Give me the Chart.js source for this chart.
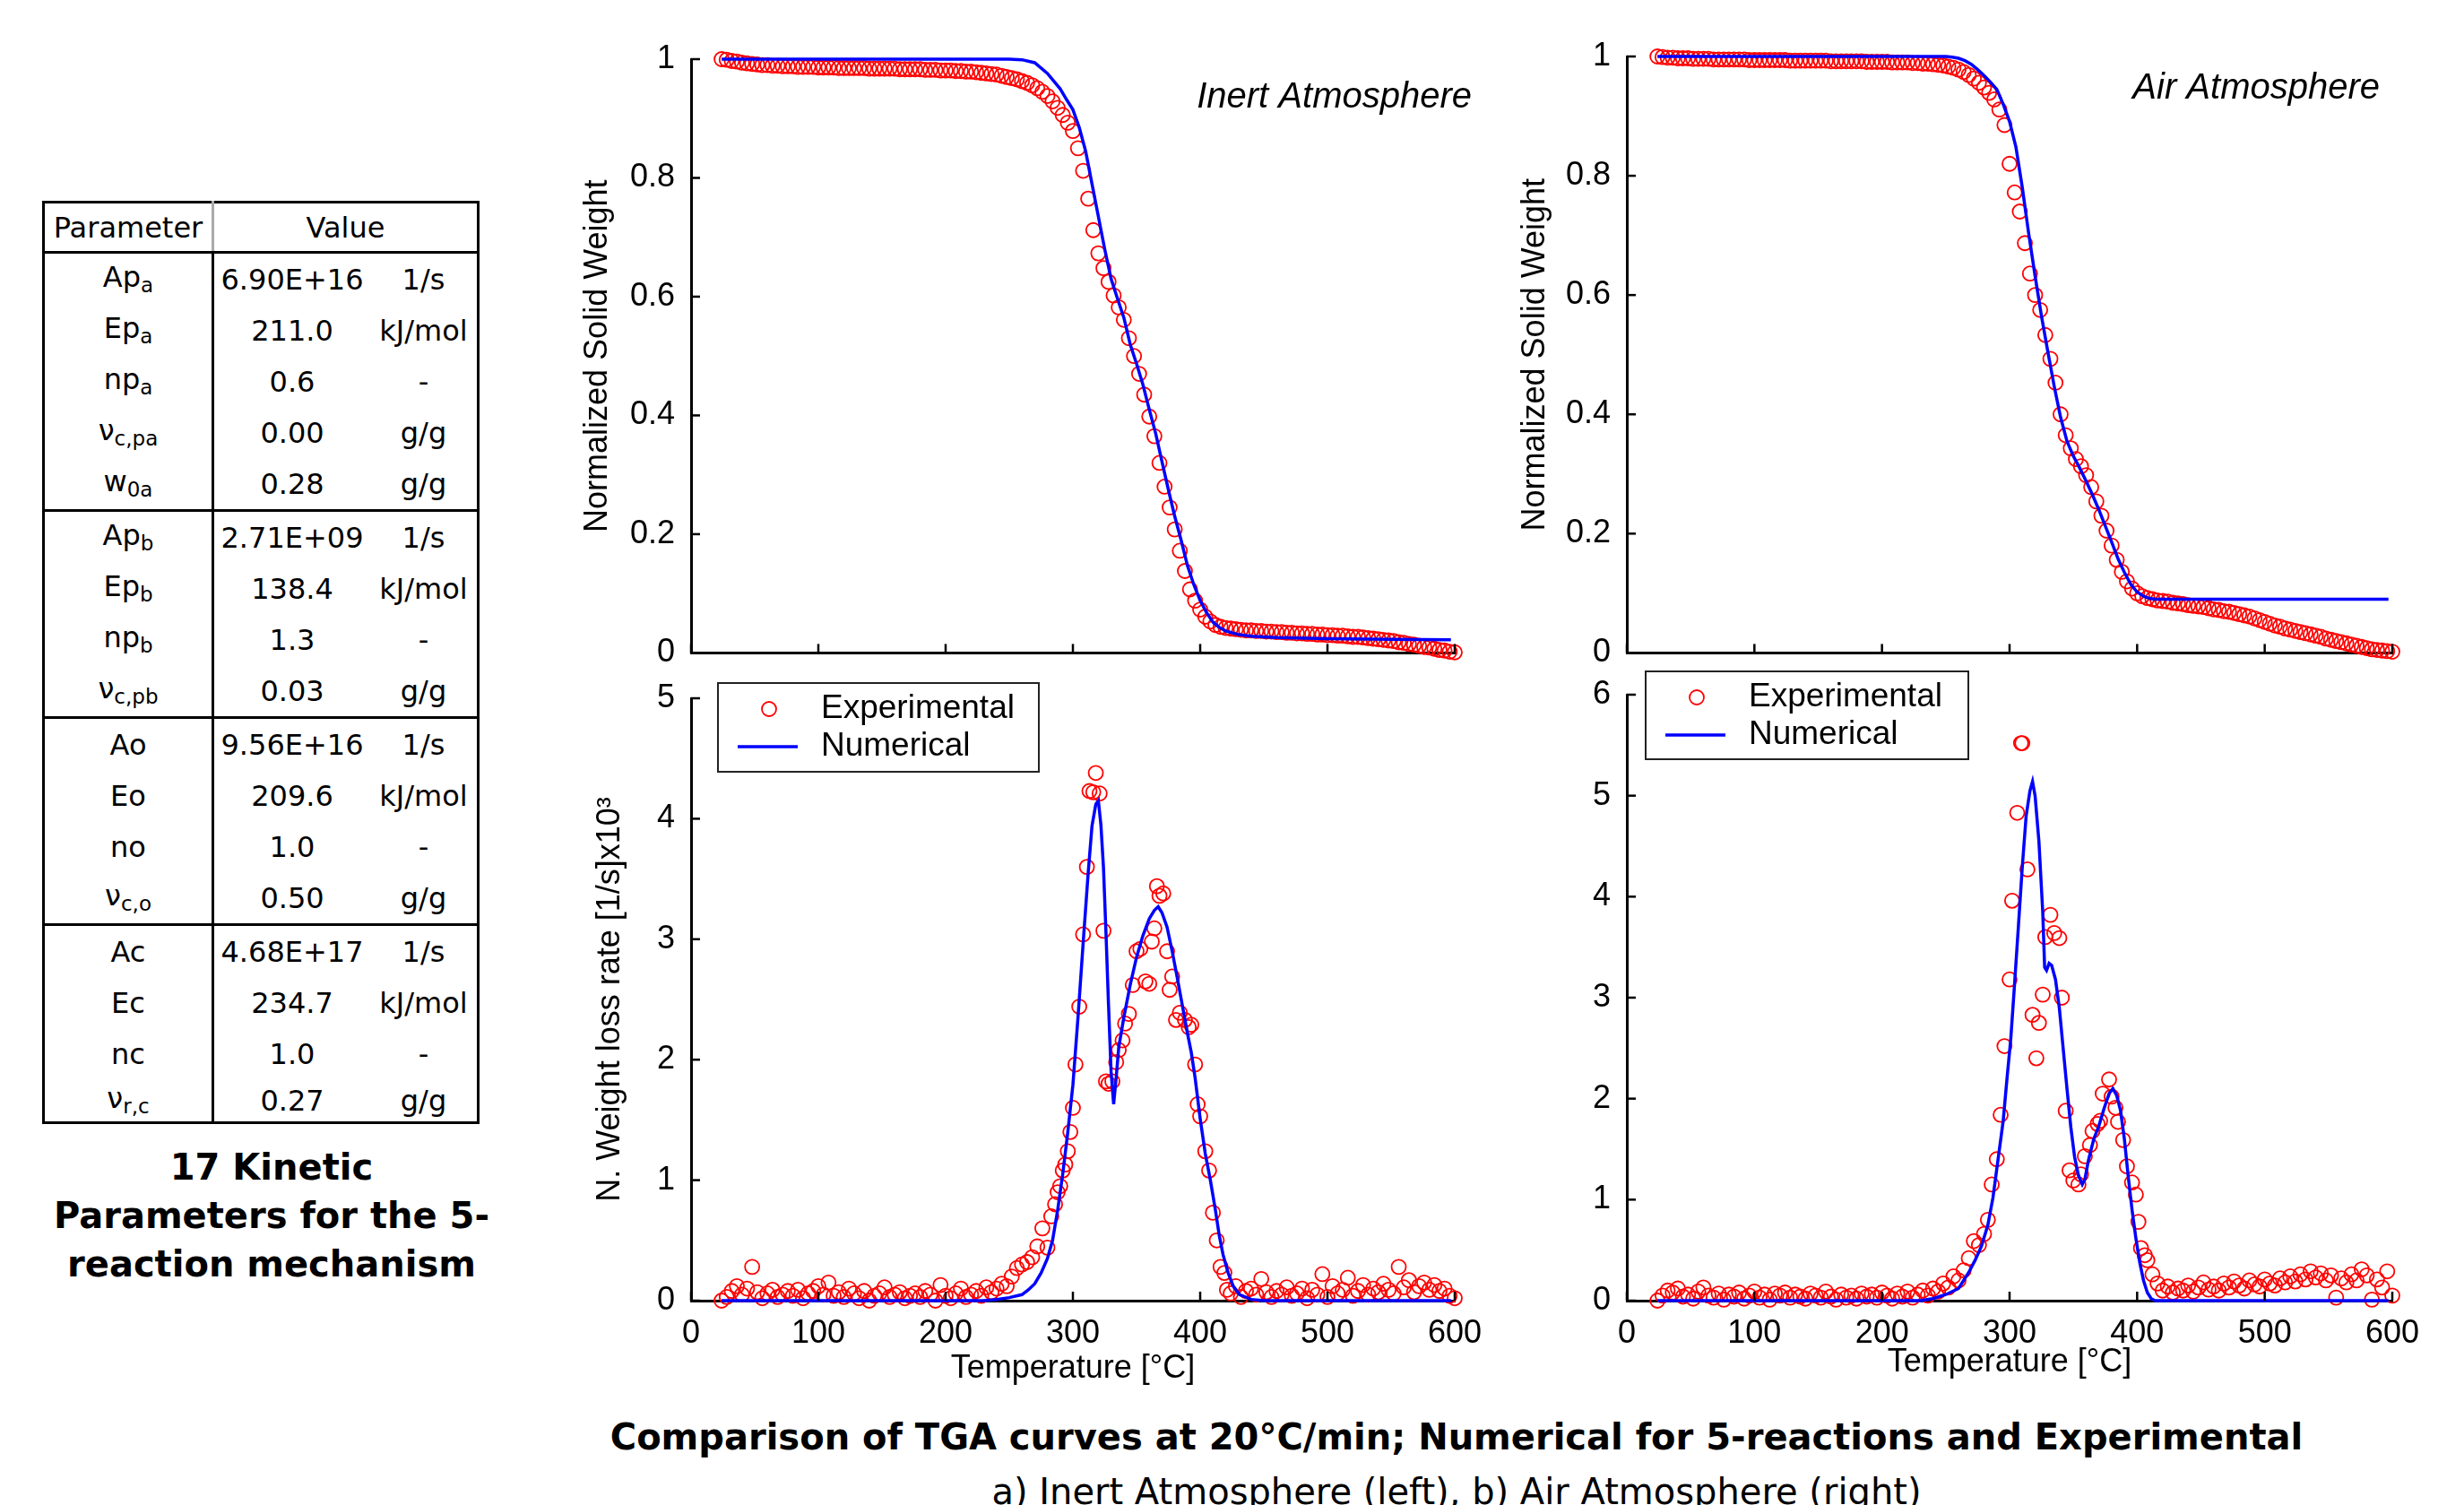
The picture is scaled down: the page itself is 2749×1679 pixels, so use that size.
<!DOCTYPE html>
<html>
<head>
<meta charset="utf-8">
<title>TGA comparison</title>
<script src="https://cdn.jsdelivr.net/npm/chart.js@4.4.1/dist/chart.umd.min.js"></script>
<style>
  html, body { margin: 0; padding: 0; background: #fff; }
  body { width: 2749px; height: 1679px; position: relative; overflow: hidden; font-family: "DejaVu Sans", Verdana, sans-serif; color: #000; }
  canvas { position: absolute; }
  #params { position: absolute; left: 47px; top: 224px; width: 488px; border-collapse: collapse; border: 3px solid #000; font-size: 32px; }
  #params th { font-weight: normal; height: 53px; border-bottom: 3px solid #000; padding: 0; }
  #params th.p { border-right: 3px solid #aaa; }
  #params td { height: 57px; padding: 0; text-align: center; vertical-align: middle; line-height: 1; }
  #params td.p { border-right: 3px solid #000; }
  #params tbody { border-top: 3px solid #000; }
  #params tr.last td { height: 47px; }
  #params sub { font-size: 23px; vertical-align: -6px; }
  #tabcap { position: absolute; left: 53px; top: 1275px; width: 500px; text-align: center; font-weight: bold; font-size: 40px; line-height: 54px; }
  #figcap { position: absolute; left: 625px; top: 1577px; width: 2000px; text-align: center; line-height: 52px; }
  #figcap .l1 { font-weight: bold; font-size: 40px; display: inline-block; white-space: nowrap; }
  #figcap .l2 { font-size: 40px; }
</style>
</head>
<body>

<table id="params">
  <thead>
    <tr><th class="p" style="width:186px">Parameter</th><th colspan="2">Value</th></tr>
  </thead>
  <tbody>
    <tr><td class="p">Ap<sub>a</sub></td><td style="width:174px">6.90E+16</td><td>1/s</td></tr>
    <tr><td class="p">Ep<sub>a</sub></td><td>211.0</td><td>kJ/mol</td></tr>
    <tr><td class="p">np<sub>a</sub></td><td>0.6</td><td>-</td></tr>
    <tr><td class="p">ν<sub>c,pa</sub></td><td>0.00</td><td>g/g</td></tr>
    <tr><td class="p">w<sub>0a</sub></td><td>0.28</td><td>g/g</td></tr>
  </tbody>
  <tbody>
    <tr><td class="p">Ap<sub>b</sub></td><td>2.71E+09</td><td>1/s</td></tr>
    <tr><td class="p">Ep<sub>b</sub></td><td>138.4</td><td>kJ/mol</td></tr>
    <tr><td class="p">np<sub>b</sub></td><td>1.3</td><td>-</td></tr>
    <tr><td class="p">ν<sub>c,pb</sub></td><td>0.03</td><td>g/g</td></tr>
  </tbody>
  <tbody>
    <tr><td class="p">Ao</td><td>9.56E+16</td><td>1/s</td></tr>
    <tr><td class="p">Eo</td><td>209.6</td><td>kJ/mol</td></tr>
    <tr><td class="p">no</td><td>1.0</td><td>-</td></tr>
    <tr><td class="p">ν<sub>c,o</sub></td><td>0.50</td><td>g/g</td></tr>
  </tbody>
  <tbody>
    <tr><td class="p">Ac</td><td>4.68E+17</td><td>1/s</td></tr>
    <tr><td class="p">Ec</td><td>234.7</td><td>kJ/mol</td></tr>
    <tr><td class="p">nc</td><td>1.0</td><td>-</td></tr>
    <tr class="last"><td class="p">ν<sub>r,c</sub></td><td>0.27</td><td>g/g</td></tr>
  </tbody>
</table>
<div id="tabcap">17 Kinetic<br>Parameters for the 5-<br>reaction mechanism</div>

<canvas id="inertTga" width="1060" height="760" style="left:620px;top:0px"></canvas>
<canvas id="airTga" width="1069" height="760" style="left:1680px;top:0px"></canvas>
<canvas id="inertRate" width="1060" height="849" style="left:620px;top:700px"></canvas>
<canvas id="airRate" width="1069" height="842" style="left:1680px;top:700px"></canvas>

<div id="figcap"><span class="l1">Comparison of TGA curves at 20°C/min; Numerical for 5-reactions and Experimental</span><br><span class="l2">a) Inert Atmosphere (left), b) Air Atmosphere (right)</span></div>

<script>
// temperatures of the experimental TGA points (°C)
const tgaTemps = [24,28,32,36,40,44,48,52,56,60,64,68,72,76,80,84,88,92,96,100,
  104,108,112,116,120,124,128,132,136,140,144,148,152,156,160,164,168,172,176,180,
  184,188,192,196,200,204,208,212,216,220,224,228,232,236,240,244,248,252,256,260,
  264,268,272,276,280,284,288,292,296,300,304,308,312,316,320,324,328,332,336,340,
  344,348,352,356,360,364,368,372,376,380,384,388,392,396,400,404,408,412,416,420,
  424,428,432,436,440,444,448,452,456,460,464,468,472,476,480,484,488,492,496,500,
  504,508,512,516,520,524,528,532,536,540,544,548,552,556,560,564,568,572,576,580,
  584,588,592,596,600];

// normalized solid weight, experimental
const inertWeightExp = [1.000,0.999,0.997,0.996,0.994,0.993,0.992,0.991,0.990,0.990,0.989,0.989,0.988,0.988,0.988,0.987,0.987,0.987,0.987,0.986,
  0.986,0.986,0.986,0.985,0.985,0.985,0.985,0.985,0.985,0.984,0.984,0.984,0.984,0.984,0.984,0.983,0.983,0.983,0.983,0.983,
  0.982,0.982,0.982,0.981,0.981,0.981,0.980,0.980,0.979,0.979,0.978,0.977,0.976,0.975,0.974,0.972,0.970,0.968,0.966,0.963,
  0.960,0.956,0.951,0.945,0.938,0.929,0.918,0.906,0.893,0.879,0.850,0.812,0.765,0.712,0.673,0.648,0.625,0.602,0.582,0.561,
  0.530,0.500,0.470,0.435,0.398,0.365,0.320,0.280,0.245,0.208,0.172,0.138,0.107,0.088,0.073,0.061,0.053,0.047,0.044,0.042,
  0.041,0.040,0.039,0.038,0.038,0.037,0.037,0.036,0.036,0.035,0.035,0.034,0.034,0.033,0.033,0.032,0.032,0.031,0.031,0.030,
  0.030,0.029,0.029,0.028,0.027,0.027,0.026,0.025,0.024,0.023,0.022,0.021,0.020,0.018,0.017,0.015,0.014,0.012,0.010,0.009,
  0.007,0.005,0.004,0.002,0.001];
const airWeightExp = [1.000,0.999,0.998,0.998,0.997,0.997,0.997,0.996,0.996,0.996,0.996,0.995,0.995,0.995,0.995,0.995,0.995,0.995,0.994,0.994,
  0.994,0.994,0.994,0.994,0.994,0.994,0.993,0.993,0.993,0.993,0.993,0.993,0.993,0.993,0.992,0.992,0.992,0.992,0.992,0.992,
  0.992,0.991,0.991,0.991,0.991,0.991,0.990,0.990,0.990,0.990,0.989,0.989,0.988,0.988,0.987,0.986,0.985,0.983,0.981,0.978,
  0.974,0.969,0.963,0.956,0.948,0.939,0.928,0.911,0.885,0.820,0.772,0.740,0.687,0.636,0.600,0.575,0.533,0.493,0.453,0.400,
  0.365,0.343,0.325,0.313,0.298,0.278,0.254,0.230,0.205,0.180,0.156,0.136,0.120,0.108,0.100,0.095,0.092,0.090,0.088,0.087,
  0.086,0.084,0.083,0.082,0.080,0.079,0.078,0.077,0.075,0.073,0.072,0.070,0.069,0.067,0.065,0.063,0.061,0.058,0.055,0.052,
  0.049,0.046,0.044,0.041,0.039,0.037,0.035,0.033,0.031,0.029,0.027,0.024,0.022,0.020,0.018,0.016,0.014,0.012,0.010,0.008,
  0.006,0.005,0.004,0.003,0.002];

// normalized solid weight, numerical
const inertWeightNumT = [24,100,200,250,260,270,280,290,295,300,305,310,315,320,325,330,335,340,345,350,
  355,360,365,370,375,380,385,390,395,400,405,410,415,420,430,440,460,500,550,597];
const inertWeightNum = [1,1,1,1,0.999,0.994,0.976,0.95,0.932,0.915,0.885,0.845,0.79,0.735,0.68,0.63,0.597,0.565,0.52,0.487,
  0.452,0.41,0.37,0.322,0.275,0.23,0.19,0.147,0.115,0.088,0.068,0.052,0.043,0.037,0.031,0.028,0.026,0.024,0.023,0.022];
const airWeightNumT = [24,100,200,250,255,260,265,270,275,280,285,290,295,300,305,310,315,320,325,330,
  335,340,345,350,355,360,365,370,375,380,385,390,395,400,405,410,415,597];
const airWeightNum = [1,1,1,1,0.999,0.997,0.993,0.987,0.978,0.968,0.957,0.945,0.92,0.891,0.848,0.78,0.703,0.632,0.565,0.505,
  0.447,0.395,0.355,0.33,0.31,0.288,0.265,0.24,0.213,0.186,0.158,0.135,0.115,0.102,0.095,0.091,0.09,0.09];

// weight loss rate [1/s]x10^3, experimental
const inertRateT = [24,28,32,36,40,44,48,52,56,60,64,68,72,76,80,84,88,92,96,100,
  104,108,112,116,120,124,128,132,136,140,144,148,152,156,160,164,168,172,176,180,
  184,188,192,196,200,204,208,212,216,220,224,228,232,236,240,244,248,252,256,260,
  264,268,272,276,280,283,286,288,290,292,294,296,298,300,302,305,308,311,313,316,
  318,321,324,326,328,331,334,336,339,341,344,347,350,353,357,360,362,364,366,368,
  371,374,376,378,381,384,388,391,393,396,398,400,404,407,410,413,416,419,421,424,
  428,432,436,440,444,448,452,456,460,464,468,472,476,480,484,488,492,496,500,504,
  508,512,516,520,524,528,532,536,540,544,548,552,556,560,564,568,572,576,580,584,
  588,592,596,600];
const inertRateExp = [0.0,0.03,0.08,0.12,0.05,0.1,0.28,0.07,0.02,0.06,0.09,0.03,0.05,0.08,0.04,0.09,0.02,0.06,0.08,0.12,
  0.05,0.15,0.04,0.07,0.03,0.1,0.06,0.02,0.08,0.0,0.04,0.06,0.11,0.03,0.05,0.07,0.02,0.04,0.06,0.03,
  0.08,0.05,0.0,0.13,0.04,0.02,0.06,0.1,0.03,0.05,0.08,0.04,0.11,0.07,0.1,0.14,0.12,0.2,0.27,0.3,
  0.32,0.36,0.45,0.6,0.44,0.7,0.8,0.9,0.95,1.08,1.13,1.24,1.4,1.6,1.96,2.44,3.04,3.6,4.23,4.22,
  4.38,4.21,3.07,1.82,1.8,1.82,1.98,2.08,2.16,2.3,2.38,2.62,2.9,2.92,2.65,2.63,2.98,3.09,3.44,3.36,
  3.38,2.9,2.58,2.69,2.33,2.39,2.33,2.27,2.29,1.96,1.63,1.53,1.24,1.08,0.73,0.5,0.28,0.23,0.09,0.06,
  0.12,0.03,0.08,0.1,0.05,0.18,0.07,0.03,0.08,0.05,0.11,0.04,0.06,0.1,0.02,0.09,0.05,0.22,0.03,0.12,
  0.06,0.09,0.19,0.04,0.08,0.13,0.05,0.1,0.07,0.14,0.09,0.06,0.28,0.11,0.17,0.07,0.12,0.15,0.09,0.13,
  0.08,0.1,0.04,0.02];
const airRateT = [24,28,32,36,40,44,48,52,56,60,64,68,72,76,80,84,88,92,96,100,
  104,108,112,116,120,124,128,132,136,140,144,148,152,156,160,164,168,172,176,180,
  184,188,192,196,200,204,208,212,216,220,224,228,232,236,240,244,248,252,256,260,
  264,268,272,276,280,283,286,290,293,296,300,302,306,309,310,314,318,321,323,326,
  328,332,335,339,341,344,347,350,354,356,359,363,365,369,371,373,378,380,383,385,
  389,392,396,399,401,403,406,408,412,416,420,424,428,432,436,440,444,448,452,456,
  460,464,468,472,476,480,484,488,492,496,500,504,508,512,516,520,524,528,532,536,
  540,544,548,552,556,560,564,568,572,576,580,584,588,592,596,600];
const airRateExp = [0.0,0.05,0.1,0.08,0.12,0.04,0.06,0.02,0.09,0.13,0.05,0.03,0.07,0.01,0.06,0.04,0.08,0.02,0.05,0.09,
  0.03,0.06,0.01,0.07,0.05,0.08,0.03,0.06,0.04,0.02,0.07,0.05,0.03,0.09,0.04,0.01,0.06,0.03,0.05,0.02,
  0.07,0.04,0.06,0.03,0.08,0.05,0.02,0.07,0.04,0.09,0.03,0.06,0.1,0.05,0.12,0.09,0.17,0.13,0.24,0.2,
  0.3,0.42,0.59,0.55,0.66,0.8,1.15,1.4,1.84,2.52,3.18,3.96,4.83,5.52,5.52,4.27,2.83,2.4,2.75,3.03,
  3.6,3.82,3.64,3.59,3.0,1.88,1.29,1.19,1.15,1.25,1.43,1.54,1.68,1.75,1.78,2.05,2.19,2.02,1.91,1.77,
  1.59,1.33,1.17,1.05,0.78,0.52,0.45,0.4,0.26,0.17,0.1,0.14,0.08,0.12,0.1,0.15,0.09,0.13,0.18,0.11,
  0.14,0.1,0.17,0.13,0.19,0.15,0.12,0.2,0.16,0.14,0.21,0.17,0.15,0.22,0.18,0.24,0.19,0.26,0.21,0.29,
  0.23,0.27,0.2,0.25,0.03,0.22,0.18,0.26,0.2,0.31,0.25,0.01,0.21,0.13,0.29,0.05];

// weight loss rate [1/s]x10^3, numerical
const inertRateNumT = [24,100,200,230,240,250,260,265,270,275,280,284,288,292,296,300,304,308,312,315,
  318,320,322,324,326,328,330,332,334,336,340,345,350,355,360,364,367,370,374,378,
  382,386,390,393,396,400,404,408,412,415,418,422,426,431,440,450,597];
const inertRateNum = [0,0,0,0,0.01,0.025,0.05,0.09,0.14,0.23,0.35,0.5,0.75,1.05,1.4,1.79,2.35,2.96,3.55,3.94,
  4.12,4.15,3.95,3.6,3.05,2.45,1.9,1.63,1.85,2.1,2.35,2.62,2.85,3.03,3.17,3.24,3.27,3.22,3.1,2.9,
  2.68,2.45,2.22,2.06,1.85,1.51,1.22,1.0,0.75,0.54,0.38,0.23,0.12,0.05,0.01,0,0];
const airRateNumT = [24,100,200,230,240,250,260,268,273,278,283,287,291,295,298,301,304,307,310,313,
  316,318,320,323,326,327.5,329,331,333,336,339,342,345,348,351,354,357,359,362,366,
  370,374,378,381,384,387,390,393,396,399,402,405,408,411,414,597];
const airRateNum = [0,0,0,0,0.02,0.06,0.12,0.28,0.4,0.54,0.75,1.02,1.4,1.78,2.2,2.6,3.15,3.72,4.3,4.8,
  5.05,5.14,5.0,4.55,3.85,3.3,3.27,3.34,3.32,3.18,2.9,2.5,2.1,1.72,1.42,1.24,1.15,1.2,1.4,1.6,
  1.73,1.9,2.05,2.1,2.03,1.88,1.6,1.23,0.9,0.62,0.38,0.2,0.08,0.02,0,0];

const tempTicks = [0, 100, 200, 300, 400, 500, 600];

Chart.defaults.font.family = '"Liberation Sans", Arial, sans-serif';
Chart.defaults.font.size = 36;
Chart.defaults.color = '#000';

function pairs(xs, ys) {
  return xs.map((x, i) => ({x: x, y: ys[i]}));
}

// inward tick marks, corner note and boxed legend drawn like the MATLAB figure
const decor = {
  id: 'decor',
  afterDraw(chart, args, o) {
    const ctx = chart.ctx, a = chart.chartArea;
    const x = chart.scales.x, y = chart.scales.y;
    ctx.save();
    ctx.strokeStyle = '#000';
    ctx.lineWidth = 2.5;
    x.ticks.forEach(t => {
      const px = x.getPixelForValue(t.value);
      ctx.beginPath(); ctx.moveTo(px, a.bottom); ctx.lineTo(px, a.bottom - 10); ctx.stroke();
    });
    y.ticks.forEach(t => {
      const py = y.getPixelForValue(t.value);
      ctx.beginPath(); ctx.moveTo(a.left, py); ctx.lineTo(a.left + 10, py); ctx.stroke();
    });
    if (o.note) {
      ctx.font = 'italic 40px "Liberation Sans", Arial, sans-serif';
      ctx.fillStyle = '#000';
      ctx.textAlign = 'right';
      ctx.textBaseline = 'middle';
      ctx.fillText(o.note, a.right + o.noteDx, a.top + o.noteDy);
    }
    if (o.legend) {
      const L = o.legend;
      const bx = a.left + L.dx, by = a.top + L.dy;
      ctx.fillStyle = '#fff';
      ctx.fillRect(bx, by, L.w, L.h);
      ctx.strokeStyle = '#222';
      ctx.lineWidth = 2;
      ctx.strokeRect(bx, by, L.w, L.h);
      ctx.strokeStyle = '#ff0000';
      ctx.lineWidth = 1.8;
      ctx.beginPath(); ctx.arc(bx + 57, by + 29, 8, 0, Math.PI * 2); ctx.stroke();
      ctx.strokeStyle = '#0000ff';
      ctx.lineWidth = 3.5;
      ctx.beginPath(); ctx.moveTo(bx + 22, by + 71); ctx.lineTo(bx + 89, by + 71); ctx.stroke();
      ctx.fillStyle = '#000';
      ctx.font = '37px "Liberation Sans", Arial, sans-serif';
      ctx.textAlign = 'left';
      ctx.textBaseline = 'middle';
      ctx.fillText('Experimental', bx + 115, by + 29);
      ctx.fillText('Numerical', bx + 115, by + 71);
    }
    ctx.restore();
  }
};

function makeChart(id, cfg) {
  const fmt = cfg.yStep < 1 ? (v => String(Number(v.toFixed(1)))) : (v => String(v));
  return new Chart(document.getElementById(id), {
    type: 'scatter',
    data: {
      datasets: [
        {
          label: 'Numerical',
          data: pairs(cfg.numT, cfg.numV),
          showLine: true,
          borderColor: '#0000ff',
          borderWidth: 3.5,
          pointRadius: 0,
          tension: 0,
          fill: false,
          clip: false,
          order: 0
        },
        {
          label: 'Experimental',
          data: pairs(cfg.expT, cfg.expV),
          showLine: false,
          pointStyle: 'circle',
          pointRadius: 8,
          borderColor: '#ff0000',
          backgroundColor: 'rgba(0,0,0,0)',
          borderWidth: 1.8,
          clip: false,
          order: 1
        }
      ]
    },
    options: {
      responsive: false,
      animation: false,
      devicePixelRatio: 1,
      events: [],
      layout: { padding: cfg.pad },
      plugins: {
        legend: { display: false },
        tooltip: { enabled: false },
        decor: { note: cfg.note, noteDx: cfg.noteDx, noteDy: cfg.noteDy, legend: cfg.legend }
      },
      scales: {
        x: {
          type: 'linear',
          min: 0, max: 600,
          afterBuildTicks: s => { s.ticks = tempTicks.map(v => ({value: v})); },
          ticks: { display: cfg.xLabels, padding: 7, maxRotation: 0, autoSkip: false },
          grid: { display: false },
          border: { display: true, color: '#000', width: 3 },
          title: { display: cfg.xLabels, text: 'Temperature [°C]', padding: 0 },
          afterFit: s => { s.height = cfg.xHeight; }
        },
        y: {
          type: 'linear',
          min: 0, max: cfg.yMax,
          ticks: { stepSize: cfg.yStep, padding: 10, callback: fmt },
          grid: { display: false },
          border: { display: true, color: '#000', width: 3 },
          title: { display: !!cfg.yTitle, text: cfg.yTitle || '', padding: 0 },
          afterFit: s => { s.width = cfg.yWidth; }
        }
      }
    },
    plugins: [decor]
  });
}

makeChart('inertTga', {
  expT: tgaTemps, expV: inertWeightExp, numT: inertWeightNumT, numV: inertWeightNum,
  yMax: 1, yStep: 0.2, yTitle: 'Normalized Solid Weight', xLabels: false,
  pad: {left: 25, top: 66, right: 57, bottom: 0}, yWidth: 126, xHeight: 24,
  note: 'Inert Atmosphere', noteDx: 19, noteDy: 43
});
makeChart('airTga', {
  expT: tgaTemps, expV: airWeightExp, numT: airWeightNumT, numV: airWeightNum,
  yMax: 1, yStep: 0.2, yTitle: 'Normalized Solid Weight', xLabels: false,
  pad: {left: 11, top: 63, right: 80, bottom: 0}, yWidth: 124, xHeight: 23,
  note: 'Air Atmosphere', noteDx: -14, noteDy: 36
});
makeChart('inertRate', {
  expT: inertRateT, expV: inertRateExp, numT: inertRateNumT, numV: inertRateNum,
  yMax: 5, yStep: 1, yTitle: 'N. Weight loss rate [1/s]x10³', xLabels: true,
  pad: {left: 39, top: 79, right: 57, bottom: 0}, yWidth: 112, xHeight: 98,
  legend: {dx: 30, dy: -17, w: 358, h: 99}
});
makeChart('airRate', {
  expT: airRateT, expV: airRateExp, numT: airRateNumT, numV: airRateNum,
  yMax: 6, yStep: 1, yTitle: '', xLabels: true,
  pad: {left: 60, top: 75, right: 80, bottom: 0}, yWidth: 75, xHeight: 91,
  legend: {dx: 21, dy: -26, w: 360, h: 98}
});
</script>
</body>
</html>
